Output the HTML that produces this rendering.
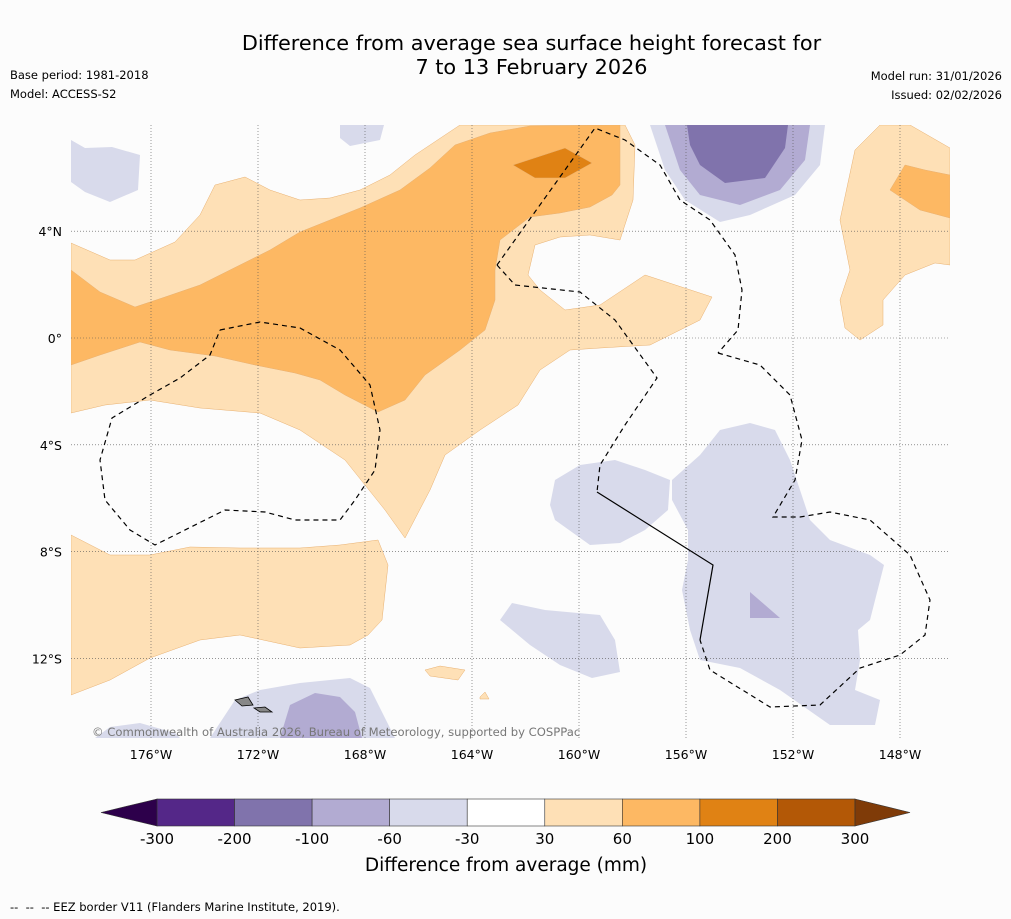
<!DOCTYPE html>
<html><head><meta charset="utf-8"><style>
body{margin:0;background:#fcfcfc;font-family:"DejaVu Sans",sans-serif;}
#wrap{position:relative;width:1011px;height:919px;overflow:hidden;background:#fcfcfc}
.t{position:absolute;color:#000}
</style></head><body>
<div id="wrap">
<div class="t" style="left:0;width:1063px;top:31px;text-align:center;font-size:20.8px;line-height:24px">Difference from average sea surface height forecast for<br>7 to 13 February 2026</div>
<div class="t" style="left:10px;top:68px;font-size:11.5px">Base period: 1981-2018</div>
<div class="t" style="left:10px;top:87px;font-size:11.5px">Model: ACCESS-S2</div>
<div class="t" style="right:9px;top:69px;font-size:11.5px;text-align:right">Model run: 31/01/2026</div>
<div class="t" style="right:9px;top:88px;font-size:11.5px;text-align:right">Issued: 02/02/2026</div>
<svg id="svg" width="1011" height="919" style="position:absolute;left:0;top:0"></svg>
<div class="t" style="left:10px;top:900px;font-size:11.5px">--&nbsp; --&nbsp; -- EEZ border V11 (Flanders Marine Institute, 2019).</div>
</div>
<script>
const levels=[-300,-200,-100,-60,-30,30,60,100,200,300];
const binColors=["#542788","#8073ac","#b2abd2","#d8daeb","#ffffff","#fee0b6","#fdb863","#e08214","#b35806"];
const lonTicks=[-176,-172,-168,-164,-160,-156,-152,-148];
const latTicks=[4,0,-4,-8,-12];
const NS="http://www.w3.org/2000/svg";
const FF="DejaVu Sans, sans-serif";
const svg=document.getElementById('svg');
const X0=71,X1=950,Y0=125,Y1=738;
function xLon(l){return 151+(l+176)*26.75;}
function yLat(l){return 338-l*26.7;}
function mk(t,a,p){const e=document.createElementNS(NS,t);for(const k in a)e.setAttribute(k,a[k]);(p||svg).appendChild(e);return e;}
const clip=mk('clipPath',{id:'mc'});mk('rect',{x:X0,y:Y0,width:X1-X0,height:Y1-Y0},clip);
const g=mk('g',{'clip-path':'url(#mc)'});


const C={lo:"#fee0b6",mo:"#fdb863",do:"#e08214",lp:"#d8daeb",mp:"#b2abd2",dp:"#8073ac"};
const polys=[
["lo","71,243 110,260 135,260 175,242 200,215 215,185 245,177 270,190 300,200 330,198 360,190 390,175 415,155 460,125 625,125 635,145 633,200 620,240 590,235 560,237 535,245 528,275 540,290 565,310 600,305 645,275 712,297 700,320 650,345 600,348 570,350 540,370 518,405 480,430 445,455 430,490 405,538 385,510 345,460 300,430 260,413 200,408 150,400 105,405 71,413"],
["mo","71,270 100,292 135,307 165,297 200,285 240,265 270,250 300,232 330,220 360,208 400,190 430,168 455,145 490,133 530,126 620,125 620,185 612,195 590,207 560,213 530,217 500,240 495,270 495,300 485,330 460,350 425,375 405,400 378,412 345,395 320,380 295,373 255,365 215,356 170,350 140,342 100,355 71,365"],
["do","513,165 565,148 592,163 565,178 535,178"],
["lo","880,125 910,125 950,148 950,265 935,263 905,275 883,300 883,325 860,340 845,328 840,300 850,270 840,220 855,150"],
["mo","905,165 925,170 950,175 950,218 920,210 890,190"],
["lo","71,535 110,555 150,555 190,547 240,548 300,548 340,545 378,540 388,565 382,620 368,635 350,645 300,648 240,635 200,640 150,658 110,680 71,695"],
["lo","425,670 440,666 465,670 458,680 430,676"],
["lo","480,697 485,692 489,699 480,699"],
["lp","650,125 825,125 820,165 795,195 750,215 720,222 685,200 665,170"],
["mp","665,125 810,125 805,160 780,190 740,205 700,195 680,170"],
["dp","687,125 788,125 785,148 765,178 725,183 700,165 690,145"],
["lp","71,140 85,148 112,147 140,155 138,190 110,202 85,192 71,182"],
["lp","340,125 384,125 380,140 350,146 340,138"],
["lp","672,480 700,455 720,430 750,423 775,430 790,460 800,490 810,520 830,540 870,555 884,565 870,620 858,630 860,660 855,690 880,700 875,725 830,725 780,690 740,668 700,660 690,630 682,590 688,560 688,530 672,500"],
["mp","750,592 780,618 750,618"],
["lp","555,480 580,465 615,460 645,470 670,480 668,510 645,530 620,543 590,545 555,520 550,505"],
["lp","500,620 512,603 545,610 600,615 615,640 620,672 592,678 560,665 530,645"],
["lp","210,738 235,700 260,690 300,683 350,678 370,688 385,718 395,738"],
["mp","280,738 290,705 315,693 340,697 355,712 362,738"],
["lp","95,738 110,727 140,723 175,733 180,738"]
];
polys.forEach((p,i)=>{const e=mk('polygon',{points:p[1],fill:C[p[0]],stroke:p[0][1]=='o'?"#e8b070":"none","stroke-width":0.5},g);

});
lonTicks.forEach(l=>{const e=mk('line',{x1:xLon(l),x2:xLon(l),y1:Y0,y2:Y1,stroke:"#555","stroke-width":0.6,"stroke-dasharray":"1,2"},g);

const t=mk('text',{x:xLon(l),y:759,"font-size":12.5,"text-anchor":"middle","font-family":FF});t.textContent=Math.abs(l)+"°W";
});
latTicks.forEach(l=>{const e=mk('line',{x1:X0,x2:X1,y1:yLat(l),y2:yLat(l),stroke:"#555","stroke-width":0.6,"stroke-dasharray":"1,2"},g);

const t=mk('text',{x:62,y:yLat(l)+5,"font-size":12.5,"text-anchor":"end","font-family":FF});t.textContent=l==0?"0°":Math.abs(l)+"°"+(l>0?"N":"S");
});
const eez=["220,330 260,322 300,328 340,350 370,385 380,430 375,470 355,500 340,520 295,520 265,512 225,510 155,545 130,530 105,500 100,460 112,418 150,395 180,378 210,355 220,330",
"497,265 595,128 625,140 660,165 680,200 710,220 735,255 742,290 738,330 718,353",
"718,353 760,365 790,395 802,440 795,480 773,517 800,517 830,512 870,520 910,555 930,600 925,635 900,655 860,668 820,705 770,707 710,670 700,640",
"497,265 515,285 580,292 615,320 657,378 625,425 600,465 597,492"];
eez.forEach(p=>{const e=mk('polyline',{points:p,fill:"none",stroke:"#000","stroke-width":1.2,"stroke-dasharray":"5,4"},g);
});
const sl=mk('polyline',{points:"597,492 713,565 700,640",fill:"none",stroke:"#000","stroke-width":1.2},g);

[["235,700 248,697 253,705 242,706"],["254,708 265,707 272,712 260,712"]].forEach(p=>{const e=mk('polygon',{points:p[0],fill:"#888",stroke:"#000","stroke-width":0.8},g);
});
const cp=mk('text',{x:92,y:736,"font-size":11.6,fill:"#777","font-family":FF});cp.textContent="© Commonwealth of Australia 2026, Bureau of Meteorology, supported by COSPPac";

const cbX0=157,cbX1=855,cbY=799,cbH=27,bw=(cbX1-cbX0)/binColors.length;
binColors.forEach((c,i)=>{const r=mk('rect',{x:cbX0+i*bw,y:cbY,width:bw,height:cbH,fill:c,stroke:"#333","stroke-width":0.6});
});
const lt=mk('polygon',{points:`${cbX0},${cbY} 101,${cbY+cbH/2} ${cbX0},${cbY+cbH}`,fill:"#2d004b",stroke:"#333","stroke-width":0.6});

const rt=mk('polygon',{points:`${cbX1},${cbY} 910,${cbY+cbH/2} ${cbX1},${cbY+cbH}`,fill:"#7f3b08",stroke:"#333","stroke-width":0.6});

levels.forEach((v,i)=>{const t=mk('text',{x:cbX0+i*bw,y:844,"font-size":15,"text-anchor":"middle","font-family":FF});t.textContent=v;
});
const ct=mk('text',{x:506,y:871,"font-size":18.5,"text-anchor":"middle","font-family":FF});ct.textContent="Difference from average (mm)";

</script>
</body></html>
